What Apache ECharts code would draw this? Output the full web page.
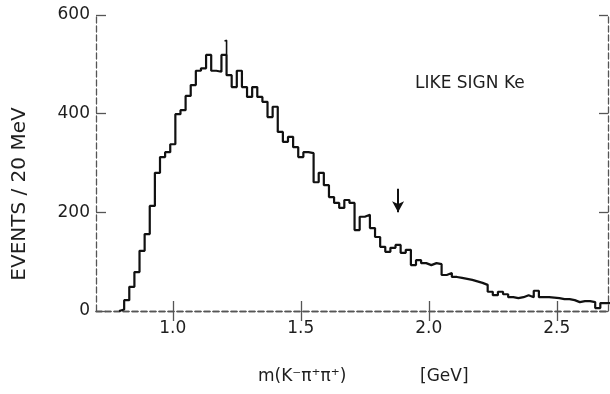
<!DOCTYPE html>
<html><head><meta charset="utf-8">
<script src="https://cdn.jsdelivr.net/npm/echarts@6/dist/echarts.min.js"></script>
<style>html,body{margin:0;padding:0;background:#fff}#c{width:610px;height:394px}</style>
</head><body><div id="c"></div>
<script>
// Histogram: 20 MeV bins, left edge of first bin
const binStart = 0.79;
const binWidth = 0.02;
const counts = [
  3, 22, 49, 79, 122, 156, 213, 280, 312, 322,
  338, 399, 407, 436, 458, 487, 492, 519, 487, 485,
  519, 478, 454, 487, 454, 434, 454, 434, 424, 393,
  414, 363, 343, 353, 332, 312, 322, 320, 261, 280,
  255, 231, 219, 209, 225, 219, 164, 191, 195, 168,
  150, 130, 120, 128, 134, 118, 124, 93, 103, 97,
  93, 97, 95, 73, 77, 69, 67, 65, 63, 60,
  57, 53, 39, 32, 39, 34, 28, 26, 28, 32,
  28, 41, 28, 28, 27, 26, 24, 24, 22, 18,
  20, 20, 18, 6, 16, 16
];
const xTicks = [1.0, 1.5, 2.0, 2.5];
const yTicks = [0, 200, 400, 600];
const xRange = [0.7, 2.7];
const yRange = [0, 600];
// narrow spike at the peak (mass, base, top)
const spike = [1.21, 519, 549];
// arrow marker (mass, from, to)
const arrow = [1.88, 248, 200];

const pts = [[binStart, 0]];
counts.forEach((c, i) => pts.push([binStart + i * binWidth, c]));
pts.push([binStart + counts.length * binWidth, counts[counts.length - 1]]);

const FONT = 'DejaVu Sans';
const TXT = '#1e1e1e';
const AX = '#555';

const chart = echarts.init(document.getElementById('c'), null, {renderer: 'canvas'});
const axLine = {show: true, lineStyle: {color: AX, width: 1.3, type: [6, 3]}};
chart.setOption({
  animation: false,
  grid: {left: 96, right: 2, top: 15, bottom: 83, containLabel: false},
  xAxis: [
    {type: 'value', position: 'bottom', min: xRange[0], max: xRange[1],
     axisLine: axLine, splitLine: {show: false},
     axisTick: {show: true, inside: true, length: 10, customValues: xTicks, lineStyle: {color: AX, width: 1.3}},
     axisLabel: {customValues: xTicks, formatter: v => v.toFixed(1), color: TXT, fontFamily: FONT, fontSize: 17, margin: 9}},
    {type: 'value', position: 'top', min: xRange[0], max: xRange[1],
     axisLine: axLine, splitLine: {show: false},
     axisTick: {show: true, inside: true, length: 10, customValues: xTicks, lineStyle: {color: AX, width: 1.3}},
     axisLabel: {show: false}}
  ],
  yAxis: [
    {type: 'value', position: 'left', min: yRange[0], max: yRange[1], interval: 200,
     axisLine: axLine, splitLine: {show: false},
     axisTick: {show: true, inside: true, length: 10, lineStyle: {color: AX, width: 1.3}},
     axisLabel: {color: TXT, fontFamily: FONT, fontSize: 17, margin: 6}},
    {type: 'value', position: 'right', min: yRange[0], max: yRange[1], interval: 200,
     axisLine: axLine, splitLine: {show: false},
     axisTick: {show: true, inside: true, length: 9, lineStyle: {color: AX, width: 1.3}},
     axisLabel: {show: false}}
  ],
  series: [
    {type: 'line', step: 'end', data: pts, showSymbol: false, symbol: 'none',
     lineStyle: {color: '#111', width: 2.2}, clip: true,
     markLine: {silent: true, symbol: ['none', 'arrow'], symbolSize: [9, 11],
       lineStyle: {color: '#111', width: 2, type: 'solid'}, label: {show: false},
       data: [[{coord: [arrow[0], arrow[1]]}, {coord: [arrow[0], arrow[2]]}]]}},
    {type: 'line', data: [[spike[0] - 0.008, spike[2] - 2], [spike[0], spike[2]], [spike[0], spike[1]]],
     showSymbol: false, symbol: 'none', lineStyle: {color: '#111', width: 1.6}}
  ],
  graphic: [
    {type: 'text', left: 415, top: 75, style: {text: 'LIKE SIGN Ke', fill: TXT, font: '17px "DejaVu Sans"'}},
    {type: 'text', left: 258, top: 368, style: {text: 'm(K\u207B\u03C0\u207A\u03C0\u207A)', fill: TXT, font: '17px "DejaVu Sans"'}},
    {type: 'text', left: 420, top: 368, style: {text: '[GeV]', fill: TXT, font: '17px "DejaVu Sans"'}},
    {type: 'text', x: 10, y: 194, rotation: Math.PI / 2,
     style: {text: 'EVENTS / 20 MeV', fill: TXT, font: '20px "DejaVu Sans"', textAlign: 'center', textVerticalAlign: 'top'}}
  ]
});
</script>
</body></html>
